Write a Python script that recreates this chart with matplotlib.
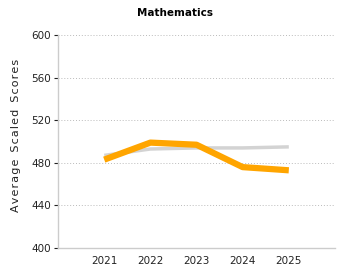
import matplotlib
matplotlib.use('Agg')
import matplotlib.pyplot as plt

# data
years = [2021, 2022, 2023, 2024, 2025]
state = [483, 499, 497, 476, 473]
comparison = [487, 493, 494, 494, 495]
y_ticks = [400, 440, 480, 520, 560, 600]

fig = plt.figure(figsize=(3.5, 2.8), dpi=100)
ax = fig.add_axes([0.166, 0.114, 0.791, 0.761])

ax.plot(years, comparison, color='#d3d3d3', linewidth=2.5, solid_capstyle='butt', zorder=2)
ax.plot(years, state, color='#ffa500', linewidth=4.5, solid_capstyle='butt', zorder=3)

ax.set_xlim(2020, 2026)
ax.set_ylim(400, 600)
ax.set_yticks(y_ticks)
ax.set_xticks(years)
ax.tick_params(axis='both', labelsize=7.5, colors='#222222', length=3, width=0.8, pad=2)
ax.tick_params(axis='x', length=0, pad=6)
ax.grid(axis='y', linestyle=(0, (1, 2)), color='#bbbbbb', linewidth=0.7)
ax.set_axisbelow(True)

for s in ['top', 'right']:
    ax.spines[s].set_visible(False)
for s in ['left', 'bottom']:
    ax.spines[s].set_color('#cccccc')
    ax.spines[s].set_linewidth(1)

sp = '\u200a'
label = sp.join('Average') + '  ' + sp.join('Scaled') + '  ' + sp.join('Scores')
ax.set_ylabel(label, fontsize=8, color='#222222')
ax.yaxis.set_label_coords(-0.135, 0.53)
fig.text(0.5, 0.955, 'Mathematics', ha='center', va='center', fontsize=7.5, fontweight='bold')

fig.savefig('out.png', dpi=100)
